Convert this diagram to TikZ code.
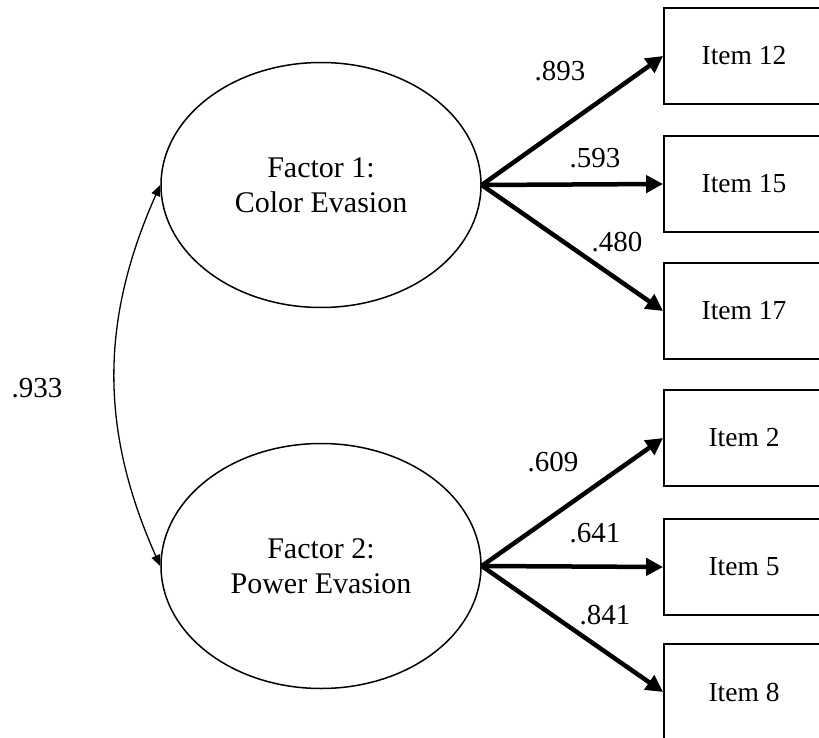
\documentclass[tikz,border=0pt]{standalone}
\usepackage{fontspec}
\setmainfont{Liberation Serif}
\usetikzlibrary{arrows.meta,shapes.geometric}

\tikzset{
  factor/.style={draw, ellipse, line width=1.5pt, minimum width=320pt,
    minimum height=245pt, inner sep=0pt, align=center,
    font=\fontsize{30}{35}\selectfont},
  itembox/.style={draw, rectangle, line width=1.8pt, minimum width=160pt,
    minimum height=96pt, inner sep=0pt, font=\fontsize{27.5}{32}\selectfont},
  load/.style={line width=4.5pt, -{Triangle[length=17pt,width=17pt]}},
  cov/.style={line width=1.3pt, {Triangle[length=11pt,width=9pt]}-{Triangle[length=11pt,width=9pt]}},
  coef/.style={inner sep=0pt, font=\fontsize{29}{32}\selectfont}
}

\begin{document}
\begin{tikzpicture}[x=1pt, y=-1pt]
  \useasboundingbox (0,0) rectangle (819,738);

  % latent factors
  \node[factor] (f1) at (321,185) {Factor 1:\\Color Evasion};
  \node[factor] (f2) at (321,566) {Factor 2:\\Power Evasion};

  % observed items
  \node[itembox] (i12) at (744,56)  {Item 12};
  \node[itembox] (i15) at (744,184) {Item 15};
  \node[itembox] (i17) at (744,311) {Item 17};
  \node[itembox] (i2)  at (744,438) {Item 2};
  \node[itembox] (i5)  at (744,567) {Item 5};
  \node[itembox] (i8)  at (744,692) {Item 8};

  % factor loadings
  \draw[load] (f1.east) -- (i12.west);
  \draw[load] (f1.east) -- (i15.west);
  \draw[load] (f1.east) -- (i17.west);
  \draw[load] (f2.east) -- (i2.west);
  \draw[load] (f2.east) -- (i5.west);
  \draw[load] (f2.east) -- (i8.west);

  \node[coef] (l12) at (560,71)  {.893};
  \node[coef] (l15) at (595,158) {.593};
  \node[coef] (l17) at (617,242) {.480};
  \node[coef] (l2)  at (553,462) {.609};
  \node[coef] (l5)  at (595,533) {.641};
  \node[coef] (l8)  at (605,615) {.841};

  % factor correlation
  \draw[cov] (f1.west) to[bend right=24] (f2.west);
  \node[coef] (r12) at (37,388) {.933};
\end{tikzpicture}
\end{document}
